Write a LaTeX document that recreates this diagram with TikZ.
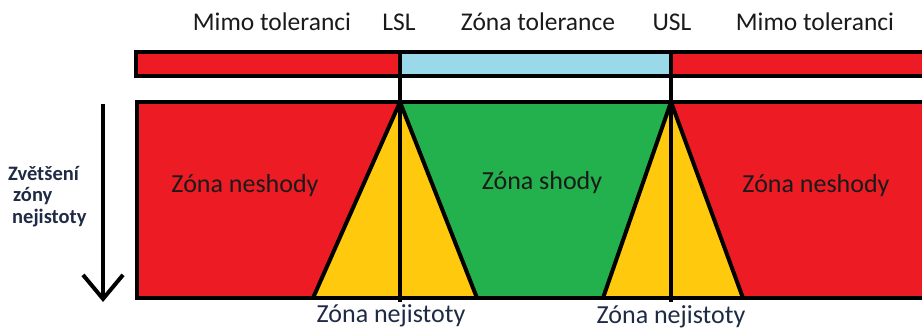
\documentclass[tikz,border=0pt]{standalone}
\usepackage{fontspec}
\setmainfont{Carlito}
\usetikzlibrary{arrows.meta}
\definecolor{pred}{HTML}{ED1C24}
\definecolor{pblue}{HTML}{99D9EA}
\definecolor{pgreen}{HTML}{22B14C}
\definecolor{pyellow}{HTML}{FFC90E}
\definecolor{ptext}{HTML}{1A1A1A}
\definecolor{pnavy}{HTML}{1F2A44}
\tikzset{
  edge/.style={line width=4pt, draw=black},
  toplabel/.style={anchor=base, font=\fontsize{25.5}{28}\selectfont, text=ptext, inner sep=0pt},
  zonelabel/.style={anchor=base, font=\fontsize{26}{28}\selectfont, text=ptext, inner sep=0pt},
  sidelabel/.style={anchor=north west, font=\bfseries\fontsize{20.5}{21.5}\selectfont, text=pnavy, align=left, inner sep=0pt},
}
\begin{document}
\begin{tikzpicture}[x=1pt,y=-1pt]
\path[use as bounding box] (0,0) rectangle (922,331);
\clip (0,0) rectangle (922,331);
% coordinates
\coordinate (barTL) at (136,52);
\coordinate (barBR) at (940,76);
\coordinate (boxTL) at (137,102);
\coordinate (boxBR) at (940,298);
\coordinate (lslT) at (400,52);
\coordinate (lslA) at (400,102);
\coordinate (lslB) at (400,302);
\coordinate (uslT) at (671,52);
\coordinate (uslA) at (671,102);
\coordinate (uslB) at (671,302);
\coordinate (t1L) at (313,298);
\coordinate (t1R) at (477,298);
\coordinate (t2L) at (603,298);
\coordinate (t2R) at (743,298);
\coordinate (arrS) at (103,104);
\coordinate (arrE) at (103,302);
% top bar
\fill[pred] (barTL) rectangle (lslT |- barBR);
\fill[pblue] (lslT) rectangle (uslT |- barBR);
\fill[pred] (uslT) rectangle (barBR);
\draw[edge] (barTL) rectangle (barBR);
% main box
\fill[pred] (boxTL) rectangle (boxBR);
\fill[pgreen] (lslA) -- (uslA) -- (t2L) -- (t1R) -- cycle;
\fill[pyellow] (lslA) -- (t1L) -- (t1R) -- cycle;
\fill[pyellow] (uslA) -- (t2L) -- (t2R) -- cycle;
\draw[edge, line join=miter] (t1L) -- (lslA) -- (t1R);
\draw[edge, line join=miter] (t2L) -- (uslA) -- (t2R);
\draw[edge] (boxTL) rectangle (boxBR);
\draw[edge] (lslT) -- (lslB);
\draw[edge] (uslT) -- (uslB);
% arrow
\draw[line width=4pt, -{Straight Barb[length=24pt,width=40pt,line width=4pt]}] (arrS) -- (arrE);
% labels
\node[toplabel] (m1) at (272,31) {Mimo toleranci};
\node[toplabel] (lsl) at (399,31) {LSL};
\node[toplabel] (zt) at (538,31) {Zóna tolerance};
\node[toplabel] (usl) at (672,31) {USL};
\node[toplabel] (m2) at (815,31) {Mimo toleranci};
\node[zonelabel] (zn1) at (245,193) {Zóna neshody};
\node[zonelabel] (zs) at (542,190) {Zóna shody};
\node[zonelabel] (zn2) at (816,193) {Zóna neshody};
\node[zonelabel, text=pnavy] (zj1) at (391,323) {Zóna nejistoty};
\node[zonelabel, text=pnavy] (zj2) at (671,324) {Zóna nejistoty};
\node[sidelabel] (side) at (8,166) {Zvětšení\\\hspace{5pt}zóny\\\hspace{4pt}nejistoty};
\end{tikzpicture}
\end{document}
